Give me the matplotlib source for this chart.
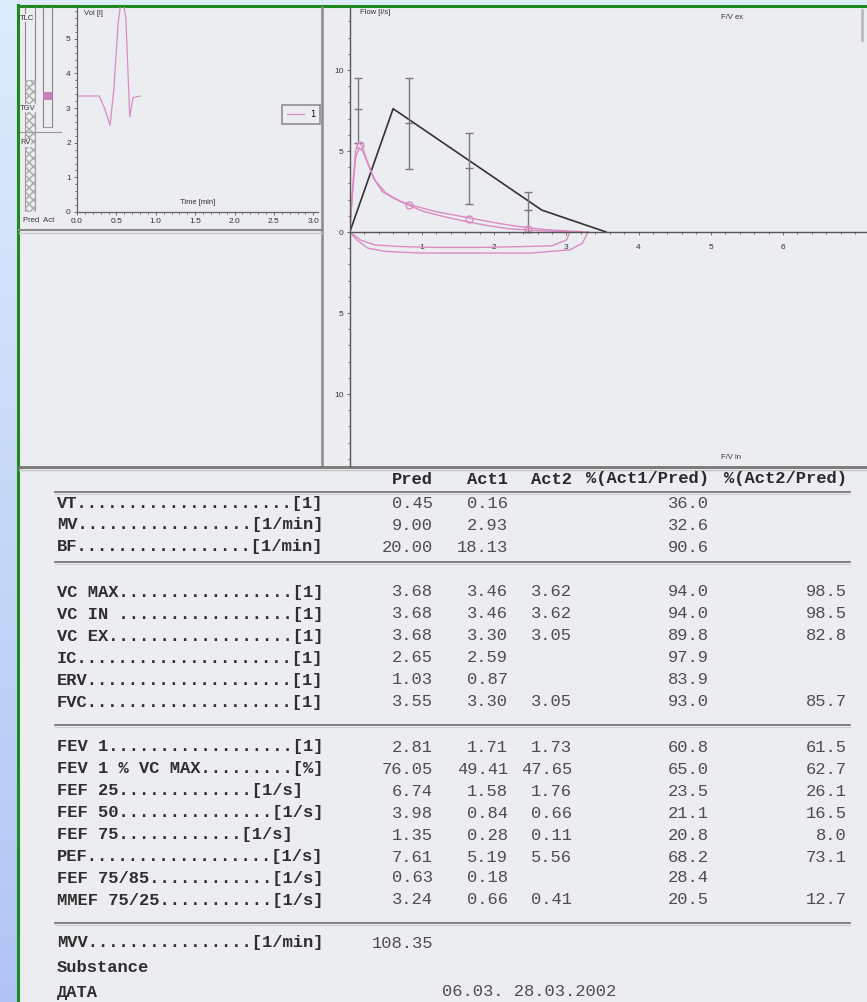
import matplotlib.pyplot as plt
import numpy as np
from matplotlib.patches import Rectangle
from matplotlib.ticker import MultipleLocator, FixedLocator, FuncFormatter

W, H = 867, 1002

# ---- volume / time trace (top left panel)
vt_time = [0.0, 0.28, 0.35, 0.42, 0.47, 0.52, 0.57, 0.62, 0.67, 0.71, 0.80]
vt_vol = [3.35, 3.35, 3.0, 2.5, 3.6, 5.4, 6.3, 5.6, 2.75, 3.3, 3.35]

# lung volume columns left of the volume axis
lv_cols = ["Pred", "Act"]
lv_bottom = [0.0, 2.45]
lv_hatch_top = [3.8, 3.6]
lv_act_tgv = 3.35
lv_labels = ["TLC", "TGV", "RV"]
lv_label_vol = [5.6, 3.0, 2.0]

# ---- flow / volume loop (right panel)
pred_vol = [0.0, 0.60, 2.66, 3.55]
pred_flow = [0.0, 7.61, 1.35, 0.0]

err_vol = [0.11, 0.825, 1.65, 2.475]
err_mid = [7.61, 6.74, 3.98, 1.35]
err_low = [5.5, 3.9, 1.7, 0.0]
err_high = [9.5, 9.5, 6.1, 2.5]

act1_ex_vol = [0, 0.04, 0.08, 0.13, 0.18, 0.25, 0.35, 0.5, 0.7, 0.9, 1.2, 1.5, 1.8, 2.1, 2.4, 2.7, 3.0, 3.3]
act1_ex_flow = [0, 2.5, 4.6, 5.19, 5.0, 4.2, 3.2, 2.4, 1.9, 1.6, 1.25, 1.0, 0.75, 0.5, 0.3, 0.15, 0.07, 0]
act1_in_vol = [3.3, 3.22, 3.05, 2.5, 2.0, 1.5, 1.0, 0.5, 0.25, 0.1, 0]
act1_in_flow = [0, -0.7, -1.1, -1.3, -1.3, -1.3, -1.3, -1.2, -1.0, -0.5, 0]

act2_ex_vol = [0, 0.04, 0.08, 0.12, 0.17, 0.24, 0.33, 0.45, 0.6, 0.76, 1.0, 1.3, 1.6, 1.9, 2.2, 2.5, 2.8, 3.05]
act2_ex_flow = [0, 2.8, 5.0, 5.56, 5.3, 4.4, 3.3, 2.5, 2.1, 1.76, 1.3, 0.95, 0.66, 0.4, 0.2, 0.11, 0.05, 0]
act2_in_vol = [3.05, 3.0, 2.8, 2.4, 1.8, 1.2, 0.7, 0.35, 0.15, 0]
act2_in_flow = [0, -0.5, -0.85, -0.9, -0.95, -0.95, -0.9, -0.8, -0.5, 0]

act_mark_vol = [0.14, 0.825, 1.65, 2.475]
act_mark_flow = [5.4, 1.67, 0.8, 0.2]

# ---- table
col_heads = ["Pred", "Act1", "Act2", "%(Act1/Pred)", "%(Act2/Pred)"]
row_labels = [
    "VT.....................[1]",
    "MV.................[1/min]",
    "BF.................[1/min]",
    "VC MAX.................[1]",
    "VC IN .................[1]",
    "VC EX..................[1]",
    "IC.....................[1]",
    "ERV....................[1]",
    "FVC....................[1]",
    "FEV 1..................[1]",
    "FEV 1 % VC MAX.........[%]",
    "FEF 25.............[1/s]",
    "FEF 50...............[1/s]",
    "FEF 75............[1/s]",
    "PEF..................[1/s]",
    "FEF 75/85............[1/s]",
    "MMEF 75/25...........[1/s]",
    "MVV................[1/min]",
    "Substance",
    "ДАТА",
]
pred = [0.45, 9.00, 20.00, 3.68, 3.68, 3.68, 2.65, 1.03, 3.55, 2.81, 76.05,
        6.74, 3.98, 1.35, 7.61, 0.63, 3.24, 108.35, None, None]
act1 = [0.16, 2.93, 18.13, 3.46, 3.46, 3.30, 2.59, 0.87, 3.30, 1.71, 49.41,
        1.58, 0.84, 0.28, 5.19, 0.18, 0.66, None, None, None]
act2 = [None, None, None, 3.62, 3.62, 3.05, None, None, 3.05, 1.73, 47.65,
        1.76, 0.66, 0.11, 5.56, None, 0.41, None, None, None]
pct1 = [36.0, 32.6, 90.6, 94.0, 94.0, 89.8, 97.9, 83.9, 93.0, 60.8, 65.0,
        23.5, 21.1, 20.8, 68.2, 28.4, 20.5, None, None, None]
pct2 = [None, None, None, 98.5, 98.5, 82.8, None, None, 85.7, 61.5, 62.7,
        26.1, 16.5, 8.0, 73.1, None, 12.7, None, None, None]
date_text = "06.03. 28.03.2002"


def px(x0, y0, x1, y1):
    return [x0 / W, 1 - y1 / H, (x1 - x0) / W, (y1 - y0) / H]


PINK = "#d98cc4"
PAPER = "#ecedf1"
TXT = "#333333"

fig = plt.figure(figsize=(W / 100, H / 100), dpi=100, facecolor="#dcecfc")

# page background in pixel coordinates
bg = fig.add_axes([0, 0, 1, 1])
grad = np.linspace(0, 1, 256).reshape(-1, 1)
top_c = np.array([0.87, 0.93, 0.99])
bot_c = np.array([0.70, 0.77, 0.96])
bg.imshow(top_c + grad[:, :, None] * (bot_c - top_c), extent=[0, 18, H, 0], aspect="auto")
bg.add_patch(Rectangle((19, 7), W - 19, H - 7, color=PAPER, lw=0))
bg.plot([18, 18], [5, H], color="#1d8a1d", lw=2.2)
bg.plot([18, W], [6, 6], color="#1d8a1d", lw=2.2)
bg.set_xlim(0, W)
bg.set_ylim(H, 0)
bg.axis("off")

# panel frames
bg.plot([322, 322], [7, 467], color="#8a8a8a", lw=1.8)
bg.plot([19, 322], [230, 230], color="#8a8a8a", lw=1.5)
bg.plot([19, 322], [233, 233], color="#c8c8c8", lw=1)
bg.plot([19, W], [467, 467], color="#777777", lw=2)
bg.plot([19, W], [470, 470], color="#c4c4c4", lw=1)
bg.plot([862, 862], [10, 40], color="#bbbbbb", lw=2)
bg.text(39, 220, "Pred  Act", fontsize=5.5, color=TXT, ha="center", va="center",
        family="Liberation Sans")

# ---- volume-time axes
ax_v = fig.add_axes(px(77, 7, 318, 212))
ax_v.patch.set_alpha(0)
ax_v.plot(vt_time, vt_vol, color=PINK, lw=0.9, label="1")
ax_v.set_xlim(0, 3.06)
ax_v.set_ylim(0, 5.92)
for s in ["top", "right"]:
    ax_v.spines[s].set_visible(False)
for s in ["left", "bottom"]:
    ax_v.spines[s].set_color("#666666")
    ax_v.spines[s].set_linewidth(0.9)
ax_v.xaxis.set_major_locator(MultipleLocator(0.5))
ax_v.xaxis.set_minor_locator(MultipleLocator(0.1))
ax_v.yaxis.set_major_locator(MultipleLocator(1))
ax_v.yaxis.set_minor_locator(MultipleLocator(0.2))
ax_v.xaxis.set_major_formatter(FuncFormatter(lambda v, p: f"{v:.1f}"))
ax_v.tick_params(which="both", labelsize=6, colors="#555555", labelcolor=TXT, length=2.5, width=0.6, pad=2)
ax_v.tick_params(which="minor", length=1.5)
for lab in ax_v.get_xticklabels() + ax_v.get_yticklabels():
    lab.set_family("Liberation Sans")
ax_v.text(0.03, 0.985, "Vol [l]", transform=ax_v.transAxes, fontsize=5.5, color=TXT,
          va="top", family="Liberation Sans")
ax_v.text(0.5, 0.03, "Time [min]", transform=ax_v.transAxes, fontsize=5.5, color=TXT,
          ha="center", va="bottom", family="Liberation Sans")
leg = ax_v.legend(loc="center", bbox_to_anchor=(0.93, 0.475), fontsize=6, frameon=True,
                  fancybox=False, handlelength=2, borderpad=0.6)
leg.get_frame().set_edgecolor("#777777")
leg.get_frame().set_facecolor(PAPER)
leg.get_frame().set_linewidth(1.2)

# ---- lung volume columns
ax_l = fig.add_axes(px(19, 7, 62, 212))
ax_l.patch.set_alpha(0)
ax_l.set_xlim(0, 43)
ax_l.set_ylim(0, 5.92)
ax_l.axis("off")
col_x = [11, 28.5]
col_w = [10, 9]
for i in range(len(lv_cols)):
    ax_l.bar(col_x[i], 6.5 - lv_bottom[i], bottom=lv_bottom[i], width=col_w[i],
             fill=False, edgecolor="#888888", lw=0.8)
    ax_l.bar(col_x[i], lv_hatch_top[i] - lv_bottom[i] if i == 0 else 0.0,
             bottom=lv_bottom[i], width=col_w[i], fill=False, edgecolor="#aaaaaa",
             hatch="xxxx", lw=0.5)
ax_l.bar(col_x[1], 0.22, bottom=lv_act_tgv - 0.11, width=col_w[1], color="#c97fb0", lw=0)
for lab, v in zip(lv_labels, lv_label_vol):
    ax_l.text(1, v, lab, fontsize=5.5, color=TXT, va="center", family="Liberation Sans",
              bbox=dict(facecolor=PAPER, edgecolor="none", pad=0.3))
ax_l.plot([1, 43], [2.3, 2.3], color="#999999", lw=0.8)

# ---- flow-volume axes
x_max = (866 - 349.8) / 72.2
ax_f = fig.add_axes(px(349.8, 7, 866, 466))
ax_f.patch.set_alpha(0)
ax_f.plot(pred_vol, pred_flow, color="#333333", lw=1.2)
ax_f.errorbar(err_vol, err_mid,
              yerr=[np.subtract(err_mid, err_low), np.subtract(err_high, err_mid)],
              fmt="_", color="#7a7a7a", ms=6, lw=1, capsize=3)
ax_f.plot(act1_ex_vol, act1_ex_flow, color=PINK, lw=1)
ax_f.plot(act2_ex_vol, act2_ex_flow, color=PINK, lw=1)
ax_f.plot(act1_in_vol, act1_in_flow, color=PINK, lw=1)
ax_f.plot(act2_in_vol, act2_in_flow, color=PINK, lw=1)
ax_f.plot(act_mark_vol, act_mark_flow, "o", color=PINK, mfc="none", ms=5, mew=1)
ax_f.set_xlim(0, x_max)
ax_f.set_ylim(-(466 - 232) / 16.2, (232 - 7) / 16.2)
for s in ["top", "right"]:
    ax_f.spines[s].set_visible(False)
ax_f.spines["bottom"].set_position(("data", 0))
for s in ["left", "bottom"]:
    ax_f.spines[s].set_color("#555555")
    ax_f.spines[s].set_linewidth(1)
ax_f.xaxis.set_major_locator(FixedLocator([1, 2, 3, 4, 5, 6]))
ax_f.xaxis.set_minor_locator(MultipleLocator(0.2))
ax_f.yaxis.set_major_locator(FixedLocator([-10, -5, 0, 5, 10]))
ax_f.yaxis.set_minor_locator(MultipleLocator(1))
ax_f.yaxis.set_major_formatter(FuncFormatter(lambda v, p: f"{abs(v):.0f}"))
ax_f.tick_params(which="both", labelsize=6, colors="#555555", labelcolor=TXT, length=2.5, width=0.6, pad=2)
ax_f.tick_params(axis="x", pad=6)
ax_f.tick_params(which="minor", length=1.5)
for lab in ax_f.get_xticklabels() + ax_f.get_yticklabels():
    lab.set_family("Liberation Sans")
ax_f.text(0.02, 0.995, "Flow [l/s]", transform=ax_f.transAxes, fontsize=5.5, color=TXT,
          va="top", family="Liberation Sans")
ax_f.text(0.72, 0.985, "F/V ex", transform=ax_f.transAxes, fontsize=5.5, color=TXT,
          va="top", family="Liberation Sans")
ax_f.text(0.72, 0.01, "F/V in", transform=ax_f.transAxes, fontsize=5.5, color=TXT,
          va="bottom", family="Liberation Sans")

# ---- table
mono = dict(family="Liberation Mono", fontsize=12.3, va="center")
row_y = [503, 525, 547,
         592, 614, 636, 658, 680, 702,
         747, 769, 791, 813, 835, 857, 878, 900,
         943, 968, 992]
col_right = [433, 508, 572, 709, 847]
col_fmt = ["{:.2f}", "{:.2f}", "{:.2f}", "{:.1f}", "{:.1f}"]

for head, xr in zip(col_heads, col_right):
    bg.text(xr, 479, head, ha="right", color="#2a2a2a", weight="bold", **mono)
for yl in [492, 562, 725, 923]:
    bg.plot([55, 850], [yl, yl], color="#6e6e6e", lw=1.2)
    bg.plot([55, 850], [yl + 2, yl + 2], color="#d0d0d0", lw=0.8)

for i, lab in enumerate(row_labels):
    bg.text(57, row_y[i], lab, ha="left", color="#2e2e2e", weight="bold", **mono)
    for col, xr, fmt in zip([pred, act1, act2, pct1, pct2], col_right, col_fmt):
        v = col[i]
        if v is not None:
            bg.text(xr, row_y[i], fmt.format(v), ha="right", color="#4d4d4d", **mono)
bg.text(442, row_y[-1], date_text, ha="left", color="#4d4d4d", **mono)

fig.savefig("out.png", dpi=100, facecolor=fig.get_facecolor())
